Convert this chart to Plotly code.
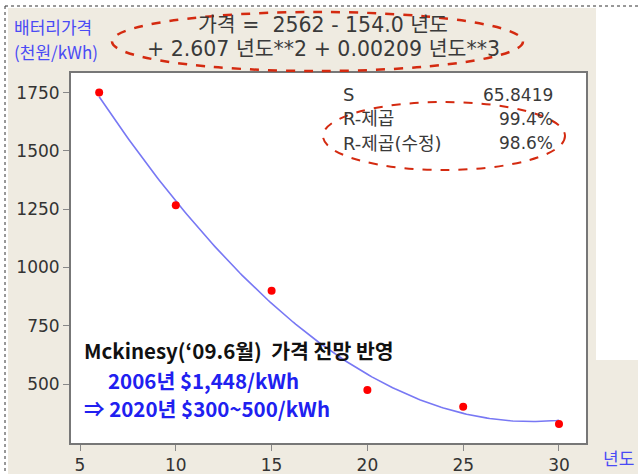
import numpy as np
import plotly.graph_objects as go

# ---- data ----
years = [6, 10, 15, 20, 25, 30]
prices = [1750, 1267, 900, 474, 403, 328]
fit_coef = [2562, -154.0, 2.607, 0.00209]   # 가격 = c0 + c1*년도 + c2*년도**2 + c3*년도**3
x_ticks = [5, 10, 15, 20, 25, 30]
y_ticks = [500, 750, 1000, 1250, 1500, 1750]
stats_labels = ["S", "R-제곱", "R-제곱(수정)"]
stats_values = ["65.8419", "99.4%", "98.6%"]

W, H = 638, 474
L, R, T, B = 71, 586, 73, 443

def px(x):
    return (x - L) / (R - L)

def py(y):
    return (B - y) / (B - T)

fit_x = np.linspace(min(years), max(years), 200)
fit_y = sum(c * fit_x ** i for i, c in enumerate(fit_coef))

fig = go.Figure()
fig.add_trace(go.Scatter(x=fit_x, y=fit_y, mode="lines",
                         line=dict(color="#7878F4", width=1.6), hoverinfo="skip"))
fig.add_trace(go.Scatter(x=years, y=prices, mode="markers",
                         marker=dict(color="#FF0000", size=8)))

BEIGE = "#EFEBE1"
shapes = []
# white margins outside the beige panel
shapes.append(dict(type="rect", xref="paper", yref="paper", layer="below",
                   x0=px(0), x1=px(W), y0=py(0), y1=py(8), fillcolor="white", line_width=0))
shapes.append(dict(type="rect", xref="paper", yref="paper", layer="below",
                   x0=px(0), x1=px(8), y0=py(0), y1=py(H), fillcolor="white", line_width=0))
shapes.append(dict(type="rect", xref="paper", yref="paper", layer="below",
                   x0=px(596), x1=px(W), y0=py(0), y1=py(360), fillcolor="white", line_width=0))
# dotted border
shapes.append(dict(type="line", xref="paper", yref="paper",
                   x0=px(5), x1=px(W), y0=py(6), y1=py(6),
                   line=dict(color="#333333", width=1, dash="dot")))
shapes.append(dict(type="line", xref="paper", yref="paper",
                   x0=px(5), x1=px(5), y0=py(6), y1=py(H),
                   line=dict(color="#333333", width=1, dash="dot")))
# red dashed ellipses
shapes.append(dict(type="circle", xref="paper", yref="paper",
                   x0=px(112), x1=px(523), y0=py(71), y1=py(12),
                   line=dict(color="#D42A10", width=2.5, dash="dash")))
shapes.append(dict(type="circle", xref="paper", yref="paper",
                   x0=px(323), x1=px(565), y0=py(170), y1=py(102),
                   line=dict(color="#D42A10", width=2, dash="dash")))

ann = []
BASE = "DejaVu Sans, Noto Sans CJK KR"
BLUE = "#4A4AF5"
GRAY = "#3A3A3A"

def text(x, y, s, size, color, anchor="left", family=BASE):
    ann.append(dict(x=px(x), y=py(y), xref="paper", yref="paper", text=s,
                    showarrow=False, xanchor=anchor, yanchor="middle",
                    font=dict(size=size, color=color, family=family)))

KR = "Noto Sans CJK KR"
text(12, 27, "배터리가격", 17, BLUE, family=KR)
text(12, 52, "(천원/kWh)", 17, BLUE, family=KR)
text(323, 25, "가격 =  2562 - 154.0 년도", 20.5, GRAY, anchor="center")
text(323, 49, "+ 2.607 년도**2 + 0.00209 년도**3", 20.5, GRAY, anchor="center")
for i, (lab, val) in enumerate(zip(stats_labels, stats_values)):
    yy = [95, 119, 143][i]
    text(341, yy, lab, 18, GRAY)
    text(555, yy, val, 17, GRAY, anchor="right")
text(601, 457, "년도", 17, BLUE, family=KR)

BOLD = "Noto Sans CJK KR"
text(82, 350, "<b>Mckinesy(‘09.6월)  가격 전망 반영</b>", 20.5, "#111111", family=BOLD)
text(106, 380, "<b>2006년 $1,448/kWh</b>", 20.5, "#2020F0", family=BOLD)
text(82, 408, "<b>⇒ 2020년 $300~500/kWh</b>", 20.5, "#2020F0", family=BOLD)

fig.update_layout(
    width=W, height=H,
    margin=dict(l=L, r=W - R, t=T, b=H - B, pad=0),
    paper_bgcolor=BEIGE, plot_bgcolor="white",
    showlegend=False,
    shapes=shapes, annotations=ann,
    font=dict(family=BASE, size=17, color=GRAY),
)
axis_common = dict(showgrid=False, zeroline=False, showline=True, mirror=True,
                   automargin=False,
                   linecolor="#777777", linewidth=2, ticks="outside", ticklen=6,
                   tickcolor="#888888", tickwidth=1,
                   tickfont=dict(size=17, color="#333333", family=BASE))
fig.update_xaxes(range=[4.53, 31.41], tickvals=x_ticks, **axis_common)
fig.update_yaxes(range=[247, 1834], tickvals=y_ticks, **axis_common)

fig.write_html("out.html",
               config={"displayModeBar": False},
               post_script="document.body.style.margin='0';"
                           "document.body.style.overflow='hidden';")
